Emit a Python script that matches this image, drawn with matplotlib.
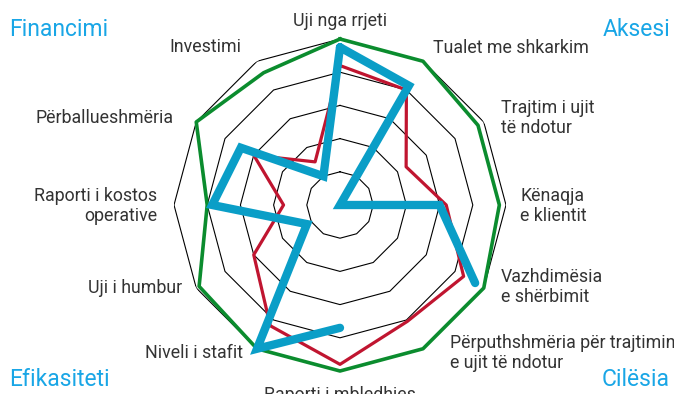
import numpy as np
import matplotlib.pyplot as plt

plt.rcParams['font.family'] = ['Roboto', 'DejaVu Sans']

categories = ["Uji nga rrjeti", "Tualet me shkarkim", "Trajtim i ujit\ntë ndotur",
              "Kënaqja\ne klientit", "Vazhdimësia\ne shërbimit",
              "Përputhshmëria për trajtimin\ne ujit të ndotur", "Raporti i mbledhjes",
              "Niveli i stafit", "Uji i humbur", "Raporti i kostos\noperative",
              "Përballueshmëria", "Investimi"]

green = [5.0, 5.0, 4.8, 4.8, 5.0, 5.0, 5.0, 5.0, 4.9, 4.0, 5.0, 4.6]
red = [4.2, 4.0, 2.3, 3.2, 4.3, 4.05, 4.8, 4.2, 3.0, 1.7, 3.0, 1.5]
blue = [4.75, 4.15, 0.0, 3.0, 4.7, np.nan, 3.7, 5.0, 1.15, 3.85, 3.45, 1.0]

groups = ["Financimi", "Aksesi", "Efikasiteti", "Cilësia"]

W, H = 674, 394
fig = plt.figure(figsize=(W / 100, H / 100), dpi=100)

# axes placed so the centre sits at (340, 205) px with radius 166 px
cx, cy, rad = 340, 205, 166
ax = fig.add_axes([(cx - rad) / W, (H - cy - rad) / H, 2 * rad / W, 2 * rad / H],
                  projection='polar')
ax.set_theta_offset(np.pi / 2)
ax.set_theta_direction(-1)
ax.set_ylim(0, 5)
ax.axis('off')

n = len(categories)
theta = np.linspace(0, 2 * np.pi, n, endpoint=False)
theta_c = np.append(theta, theta[0])


def closed(v):
    return np.append(v, v[0])


# polygon grid
for lvl in range(1, 6):
    ax.plot(theta_c, [lvl] * (n + 1), color='black', lw=0.8, zorder=1)

ax.plot(theta_c, closed(green), color='#0B8C2E', lw=2.6, zorder=2, clip_on=False)
ax.plot(theta_c, closed(red), color='#C01530', lw=2.3, zorder=3, clip_on=False)
ax.plot(theta_c, closed(blue), color='#0A9EC7', lw=6, zorder=4,
        solid_capstyle='round', solid_joinstyle='miter', clip_on=False)

# category labels (pixel anchors, top-left origin)
lab_pos = [(340, 21, 'center'), (433, 48, 'left'), (501, 118, 'left'),
           (520, 206, 'left'), (501, 287, 'left'), (450, 353, 'left'),
           (340, 395, 'center'), (243, 353, 'right'), (182, 288, 'right'),
           (157, 206, 'right'), (174, 118, 'right'), (241, 47, 'right')]
for txt, (x, y, ha) in zip(categories, lab_pos):
    fig.text(x / W, 1 - y / H, txt, ha=ha, va='center', multialignment=ha,
             fontsize=12.8, color='#333333', linespacing=1.15)

corner_pos = [(9, 30, 'left'), (670, 30, 'right'), (9, 380, 'left'), (670, 380, 'right')]
for txt, (x, y, ha) in zip(groups, corner_pos):
    fig.text(x / W, 1 - y / H, txt, ha=ha, va='center', fontsize=16.5,
             color='#19A6E6')

fig.savefig('out.png', dpi=100)
